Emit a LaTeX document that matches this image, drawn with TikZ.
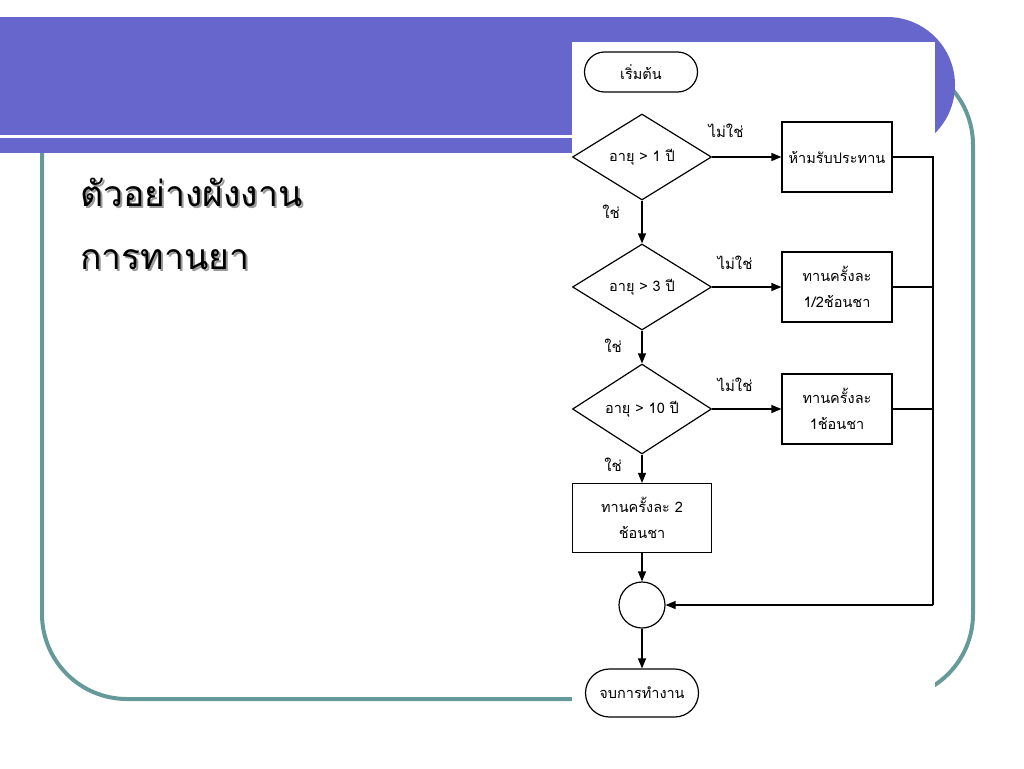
\documentclass[tikz,border=0pt]{standalone}
\usepackage{fontspec}
\newfontfamily\thai[Script=Thai]{Loma}
\usetikzlibrary{shapes.geometric,arrows.meta}
\definecolor{bandblue}{HTML}{6666CC}
\definecolor{frameteal}{HTML}{669999}
\begin{document}
\begin{tikzpicture}[x=1pt,y=-1pt,
  flow/.style={draw=black, line width=1.2pt, font=\thai\fontsize{14.5}{26}\selectfont, align=center, inner sep=1pt},
  term/.style={flow, rectangle, minimum width=113},
  dec/.style={flow, diamond, minimum width=139, minimum height=86, inner sep=0pt},
  box/.style={flow, rectangle, minimum width=110, minimum height=70},
  flowline/.style={draw=black, line width=1.2pt},
  arr/.style={flowline, -{Triangle[length=10pt,width=8pt]}},
  lab/.style={font=\thai\fontsize{15}{16}\selectfont, inner sep=0pt},
  title/.style={font=\thai\fontsize{35.5}{40}\selectfont, anchor=west, inner sep=0pt}]
\useasboundingbox (0,0) rectangle (1024,768);
% slide frame
\draw[frameteal, line width=4pt, rounded corners=85] (42,60) rectangle (973,699);
% header band
\fill[bandblue] (0,17) rectangle (887,153);
\fill[bandblue] (887,85) circle[radius=68];
\fill[white] (0,135) rectangle (880,138);
% pasted chart background
\fill[white] (572,42) rectangle (935,745);
% title
\node[title, text=black!40] (t1s) at (82,194) {ตัวอย่างผังงาน};
\node[title] (t1) at (80,192) {ตัวอย่างผังงาน};
\node[title, text=black!40] (t2s) at (82,262) {การทานยา};
\node[title] (t2) at (80,260) {การทานยา};
% flowchart
\node[term, minimum height=40, rounded corners=20] (start) at (641,72) {เริ่มต้น};
\node[dec] (d1) at (642,157) {อายุ > 1 ปี};
\node[box] (b1) at (837,157) {ห้ามรับประทาน};
\node[dec] (d2) at (642,287) {อายุ > 3 ปี};
\node[box] (b2) at (837,287) {ทานครั้งละ\\1/2ช้อนชา};
\node[dec] (d3) at (642,409) {อายุ > 10 ปี};
\node[box] (b3) at (837,409) {ทานครั้งละ\\1ช้อนชา};
\node[box, minimum width=139, minimum height=69] (b4) at (642,518) {ทานครั้งละ 2\\ช้อนชา};
\node[flow, circle, minimum size=46, inner sep=0pt] (c) at (642,605) {};
\node[term, minimum height=48, rounded corners=24] (end) at (642,693) {จบการทำงาน};
\coordinate (rc) at (933,605);
\draw[arr] (d1.east) -- (b1.west);
\draw[arr] (d1.south) -- (d2.north);
\draw[arr] (d2.east) -- (b2.west);
\draw[arr] (d2.south) -- (d3.north);
\draw[arr] (d3.east) -- (b3.west);
\draw[arr] (d3.south) -- (b4.north);
\draw[arr] (b4.south) -- (c.north);
\draw[arr] (c.south) -- (end.north);
\draw[flowline] (b1.east) -| (rc);
\draw[flowline] (b2.east) -- (b2.east -| rc);
\draw[flowline] (b3.east) -- (b3.east -| rc);
\draw[arr] (rc) -- (c.east);
% labels
\node[lab] (n1) at (726,131) {ไม่ใช่};
\node[lab] (n2) at (735,263) {ไม่ใช่};
\node[lab] (n3) at (735,385) {ไม่ใช่};
\node[lab] (y1) at (611,212) {ใช่};
\node[lab] (y2) at (613,346) {ใช่};
\node[lab] (y3) at (613,465) {ใช่};
\end{tikzpicture}
\end{document}
